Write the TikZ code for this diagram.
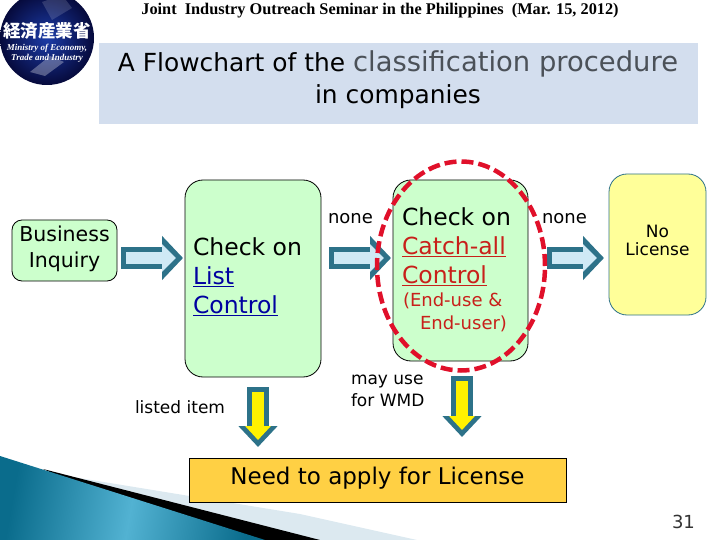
\documentclass[tikz,border=0pt]{standalone}
\usepackage{fontspec}
\setmainfont{DejaVu Sans}
\newfontfamily\headfont{Liberation Serif}
\newfontfamily\cjkfont{Noto Sans CJK JP}
\usetikzlibrary{arrows.meta,shapes.geometric}
\definecolor{bandblue}{HTML}{D3DEEE}
\definecolor{boxgreen}{HTML}{CCFFCC}
\definecolor{boxyellow}{HTML}{FFFF99}
\definecolor{boxorange}{HTML}{FFD044}
\definecolor{arrowteal}{HTML}{2D7289}
\definecolor{arrowlight}{HTML}{CFE9F5}
\definecolor{titlegray}{HTML}{4B5158}
\definecolor{linkblue}{HTML}{0000A0}
\definecolor{catchred}{HTML}{C8201A}
\definecolor{ringred}{HTML}{E0102A}
\definecolor{cornerlight}{HTML}{DCE9F0}
\definecolor{cornerdark}{HTML}{0A6C8C}
\definecolor{cornermid}{HTML}{52B2D2}
\definecolor{logodark}{HTML}{060A3C}
\definecolor{logomid}{HTML}{1C3CA8}
\newcommand{\fsize}[2]{\fontsize{#1}{#2}\selectfont}

\begin{document}
\begin{tikzpicture}[x=1pt, y=-1pt,
    flatarrow/.style args={#1/#2/#3/#4/#5}{
        preaction={draw=arrowteal, line width=22pt, shorten <=#2, shorten >=#3,
            -{Triangle[length=21pt, width=#4]}},
        draw=#1, line width=12pt, shorten <=#2+5pt, shorten >=#3+7pt,
        -{Triangle[length=14pt, width=#5]}}]
    \tikzstyle{box} = [rectangle, rounded corners=18pt, draw=black, fill=boxgreen,
        line width=0.8pt, inner sep=0pt, outer sep=0pt]
    \tikzstyle{label} = [inner sep=0pt, outer sep=0pt, align=left, anchor=west]

    \useasboundingbox (0,0) rectangle (720,540);

    % corner
    \fill [fill=cornerlight] (73,477) -- (300,514) -- (417,540) -- (73,540) -- cycle;
    \fill [black] (43,469) -- (320,540) -- (200,540) -- cycle;
    \shade [left color=cornerdark, right color=cornerdark, middle color=cornermid,
        shading angle=80] (0,456) -- (265,540) -- (0,540) -- cycle;

    % logo
    \begin{scope}
        \clip (0,0) rectangle (100,90);
        \shade [inner color=logomid, outer color=logodark] (47,38) circle (47);
        \fill [white, opacity=0.3] (30,72) -- (50,56) -- (64,62) -- (45,76) -- cycle;
        \fill [white, opacity=0.15] (42,2) -- (62,-5) -- (72,8) -- (52,20) -- cycle;
    \end{scope}
    \node [text=white, inner sep=0pt, font=\cjkfont\bfseries\fsize{17.5}{18}] (logoname) at (47,31) {経済産業省};
    \node [text=white, inner sep=0pt, align=center, font=\headfont\bfseries\itshape\fsize{9}{10}] (logoeng) at (47,53)
        {Ministry of Economy,\\ Trade and Industry};

    \node [inner sep=0pt, font=\headfont\bfseries\fsize{16.3}{16}] (header) at (380,11)
        {Joint\ \ Industry Outreach Seminar in the Philippines\ \ (Mar. 15, 2012)};

    \node [fill=bandblue, minimum width=599pt, minimum height=81pt, inner sep=0pt] (band) at (398.5,83.5) {};
    \node [inner sep=0pt, align=center, font=\fsize{24.9}{32}] (title) at (398,80)
        {A Flowchart of the {\fsize{27.4}{32}\color{titlegray}classif{}ication procedure}\\ in companies};

    \node [box, rounded corners=10pt, minimum width=105pt, minimum height=61pt, align=center, text depth=7pt, font=\fsize{20.5}{26}] (inquiry) at (64.5,250.5)
        {Business\\ Inquiry};
    \node [box, minimum width=136pt, minimum height=197pt] (listbox) at (253,278.5) {};
    \node [box, minimum width=135pt, minimum height=181pt] (catchbox) at (460.5,270.5) {};
    \node [box, draw=arrowteal, fill=boxyellow, minimum width=97pt, minimum height=141pt, align=center, text depth=9pt, font=\fsize{17}{18}] (nolicense) at (657.5,244.5)
        {No\\ License};
    \node [rectangle, draw=black, fill=boxorange, line width=0.8pt, minimum width=377pt, minimum height=44pt, inner sep=0pt, outer sep=0pt, text depth=9pt, font=\fsize{23}{23}] (apply) at (377.5,480)
        {Need to apply for License};

    \node [label, font=\fsize{23.5}{29}] (listlabel) at (193,277)
        {Check on\\ {\color{linkblue}\underline{List}}\\ {\color{linkblue}\underline{Control}}};
    \node [label, font=\fsize{23.5}{29}] (catchlabel) at (402,247)
        {Check on\\ {\color{catchred}\underline{Catch-all}}\\ {\color{catchred}\underline{Control}}};
    \node [label, text=catchred, font=\fsize{18}{23}] (enduse) at (403,312)
        {(End-use \&\\ \hspace*{17pt}End-user)};

    \node [label, font=\fsize{18}{18}] (nonea) at (328,219) {none};
    \node [label, font=\fsize{18}{18}] (noneb) at (542,219) {none};
    \node [label, font=\fsize{17}{17}] (listed) at (135,407) {listed item};
    \node [label, font=\fsize{17}{22}] (mayuse) at (351,391) {may use\\ for WMD};
    \node [label, text=black!80, font=\fsize{18}{18}] (pagenum) at (672,522) {31};

    % arrows
    \coordinate (flow) at (0,258);
    \coordinate (dropa) at (258,0);
    \coordinate (dropb) at (462,0);

    \draw [flatarrow=arrowlight/4pt/2pt/43pt/27pt] (inquiry.east |- flow) -- (listbox.west |- flow);
    \draw [flatarrow=arrowlight/8pt/2pt/43pt/27pt] (listbox.east |- flow) -- (catchbox.west |- flow);
    \draw [flatarrow=arrowlight/19pt/5pt/43pt/27pt] (catchbox.east |- flow) -- (nolicense.west |- flow);
    \draw [flatarrow=yellow/10pt/11pt/38pt/25pt] (listbox.south -| dropa) -- (apply.north -| dropa);
    \draw [flatarrow=yellow/15pt/21pt/38pt/25pt] (catchbox.south -| dropb) -- (apply.north -| dropb);

    \node [ellipse, draw=ringred, line width=4.5pt, dash pattern=on 12pt off 5pt,
        minimum width=168pt, minimum height=209pt, inner sep=0pt] (catchring) at (461,266) {};
\end{tikzpicture}
\end{document}
